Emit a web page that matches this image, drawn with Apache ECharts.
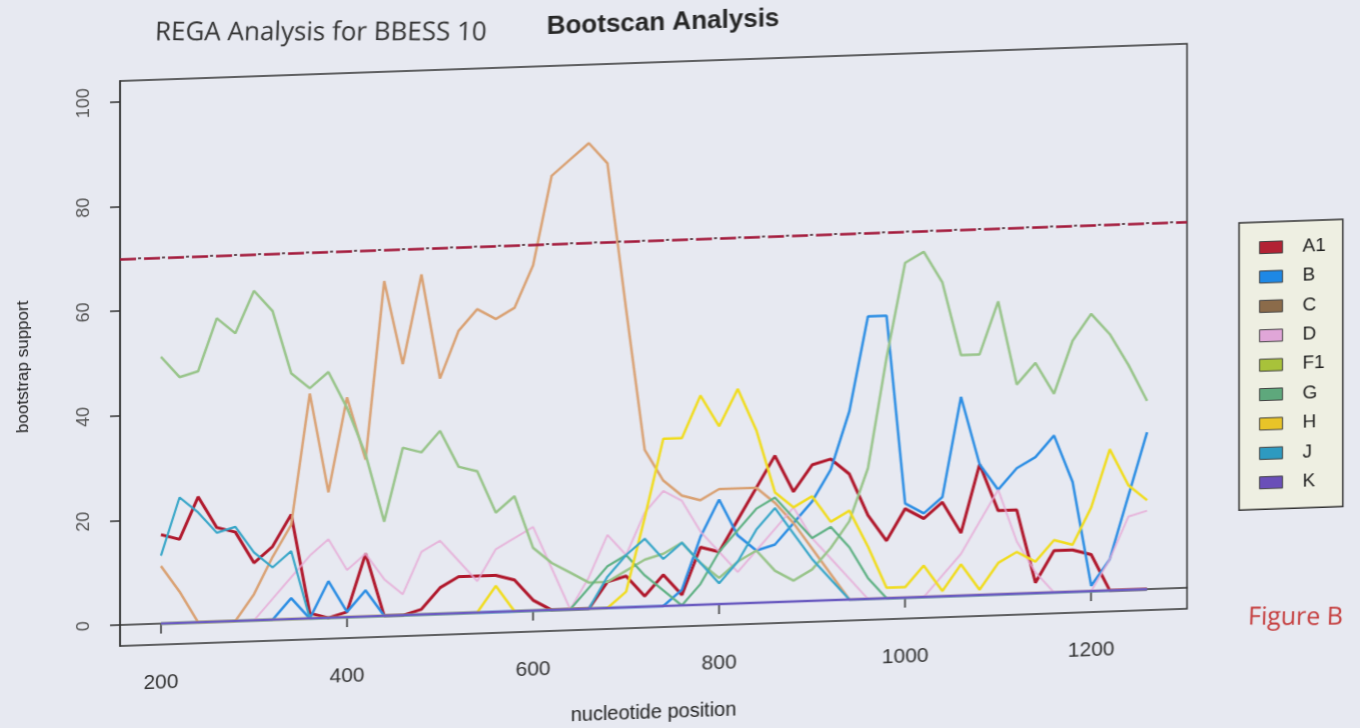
<!DOCTYPE html>
<html><head><meta charset="utf-8">
<script src="https://cdn.jsdelivr.net/npm/echarts@6/dist/echarts.min.js"></script>
<style>
html,body{margin:0;padding:0;width:1360px;height:728px;overflow:hidden;background:#e7e9f1;}
#chart{position:absolute;left:0;top:0;width:1360px;height:760px;transform:skewY(-2deg);transform-origin:120px 0;}
</style></head><body><div id="chart"></div>
<script>
// nucleotide positions (window centres)
const positions = [200,220,240,260,280,300,320,340,360,380,400,420,440,460,480,500,520,540,560,580,600,620,640,660,680,700,720,740,760,780,800,820,840,860,880,900,920,940,960,980,1000,1020,1040,1060,1080,1100,1120,1140,1160,1180,1200,1220,1240,1260];
const xTicks = [200,400,600,800,1000,1200];
const yTicks = [0,20,40,60,80,100];
const threshold = 70;

const A1 = [17,16,24,18,17,11,14,20,1,0, 1,12,0,0,1,5,7,7,7,6, 2,0,0,0,5,6,2,6,2,11, 10,16,22,28,21,26,27,24,16,11, 17,15,18,12,25,16,16,2,8,8, 7,0,0,0];
const B  = [0,0,0,0,0,0,0,4,0,7, 1,5,0,0,0,0,0,0,0,0, 0,0,0,0,0,0,0,0,3,13, 20,13,10,11,15,19,25,36,54,54, 18,16,19,38,25,20,24,26,30,21, 1,6,18,30];
const C  = [11,6,0,0,0,5,12,18,43,24, 42,30,64,48,65,45,54,58,56,58, 66,83,86,89,85,57,30,24,21,20, 22,22,22,19,15,10,5,0,0,0, 0,0,0,0,0,0,0,0,0,0, 0,0,0,0];
const D  = [0,0,0,0,0,0,4,8,12,15, 9,12,7,4,12,14,10,6,12,14, 16,8,0,6,14,10,18,22,20,14, 10,6,10,14,18,12,8,4,0,0, 0,0,4,8,14,20,10,4,0,0, 0,6,14,15];
const F1 = [51,47,48,58,55,63,59,47,44,47, 40,31,18,32,31,35,28,27,19,22, 12,9,7,5,5,7,9,10,12,8, 5,8,10,6,4,6,10,15,25,46, 64,66,60,46,46,56,40,44,38,48, 53,49,43,36];
const G  = [0,0,0,0,0,0,0,0,0,0, 0,0,0,0,0,0,0,0,0,0, 0,0,0,4,8,10,6,3,0,4, 10,14,18,20,16,12,14,10,4,0, 0,0,0,0,0,0,0,0,0,0, 0,0,0,0];
const H  = [0,0,0,0,0,0,0,0,0,0, 0,0,0,0,0,0,0,0,5,0, 0,0,0,0,0,3,17,32,32,40, 34,41,33,21,18,20,15,17,10,2, 2,6,1,6,1,6,8,6,10,9, 16,27,20,17];
const J  = [13,24,21,17,18,13,10,13,0,0, 0,0,0,0,0,0,0,0,0,0, 0,0,0,0,6,10,13,9,12,8, 4,8,14,18,13,8,4,0,0,0, 0,0,0,0,0,0,0,0,0,0, 0,0,0,0];
const K  = [0,0,0,0,0,0,0,0,0,0, 0,0,0,0,0,0,0,0,0,0, 0,0,0,0,0,0,0,0,0,0, 0,0,0,0,0,0,0,0,0,0, 0,0,0,0,0,0,0,0,0,0, 0,0,0,0];

const seriesNames = ['A1','B','C','D','F1','G','H','J','K'];
const seriesValues = [A1,B,C,D,F1,G,H,J,K];
const lineColors = ['#b0182c','#2b8de3','#d9a173','#e6a9d6','#98c48a','#5fb184','#f0dc1e','#38a6c8','#6b5cc0'];
const swatchColors = ['#b22234','#1e88e5','#8b6b4a','#e0a6d8','#a8c23a','#5ea87c','#e8c428','#2e9ac0','#6a4fb8'];
const lineWidths = [3,2.5,2.5,2,2.5,2.2,2.5,2.2,2.5];

const chart = echarts.init(document.getElementById('chart'), null, {renderer:'canvas'});

const series = seriesNames.map((n,k)=>({
  name:n, type:'line', showSymbol:false, symbol:'none', animation:false,
  data: positions.map((x,i)=>[x, seriesValues[k][i]]),
  itemStyle:{color:swatchColors[k]},
  lineStyle:{color:lineColors[k], width:lineWidths[k], opacity: n==='D'?0.8:1},
  z: 2
}));
series.push({
  name:'cutoff', type:'line', data:[], animation:false,
  markLine:{silent:true, symbol:'none', animation:false, label:{show:false},
    data:[{yAxis:threshold, lineStyle:{color:'#a3183a', type:[16,8], width:2.5}},
          {yAxis:threshold, lineStyle:{color:'#3a1a22', type:[3,21], dashOffset:-18, width:1.5}}]},
  z: 3
});

chart.setOption({
  backgroundColor:'transparent',
  animation:false,
  title:{text:'Bootscan Analysis', left:658, top:24, textAlign:'center',
    textStyle:{fontFamily:'Liberation Sans', fontWeight:'bold', fontSize:26, color:'#262626'}},
  grid:{left:120, right:173, top:81, bottom:114, show:true, borderColor:'#333', borderWidth:1.5, backgroundColor:'transparent'},
  legend:{
    data:seriesNames, orient:'vertical', left:1239, top:262,
    backgroundColor:'#eeefe2', borderColor:'#333', borderWidth:1.5,
    padding:[16,17,17,20], itemWidth:23, itemHeight:12, itemGap:10.4, icon:'rect',
    itemStyle:{borderColor:'#444', borderWidth:1},
    textStyle:{fontFamily:'Liberation Sans', fontSize:19, color:'#222', lineHeight:14, padding:[0,0,0,15]},
    selectedMode:false
  },
  xAxis:{type:'value', min:156, max:1303,
    name:'nucleotide position', nameLocation:'middle', nameGap:75,
    nameTextStyle:{fontFamily:'Liberation Sans', fontSize:20, color:'#222'},
    axisLine:{show:true, lineStyle:{color:'#333', width:1.5}},
    axisTick:{show:true, length:10, customValues:xTicks, lineStyle:{color:'#333', width:1.5}},
    axisLabel:{customValues:xTicks, margin:28, fontFamily:'Liberation Sans', fontSize:21, color:'#333',
      formatter:(v)=>String(v)},
    splitLine:{show:false}},
  yAxis:{type:'value', min:-4, max:104,
    name:'bootstrap support', nameLocation:'middle', nameGap:88,
    nameTextStyle:{fontFamily:'Liberation Sans', fontSize:17, color:'#222'},
    axisLine:{show:true, lineStyle:{color:'#333', width:1.5}},
    axisTick:{show:true, length:10, customValues:yTicks, lineStyle:{color:'#333', width:1.5}},
    axisLabel:{customValues:yTicks, rotate:90, margin:27, fontFamily:'Liberation Sans', fontSize:18, color:'#555',
      formatter:(v)=>String(v)},
    splitLine:{show:false}},
  graphic:[
    {type:'text', x:155, y:34, rotation:-0.0349, silent:true,
      style:{text:'REGA Analysis for BBESS 10', font:'26px "Open Sans"', fill:'#333', verticalAlign:'middle'}},
    {type:'text', x:1248, y:657, rotation:-0.0349, silent:true,
      style:{text:'Figure B', font:'25px "Open Sans"', fill:'#c43a3a', verticalAlign:'middle'}}
  ],
  series:series
});
</script></body></html>
